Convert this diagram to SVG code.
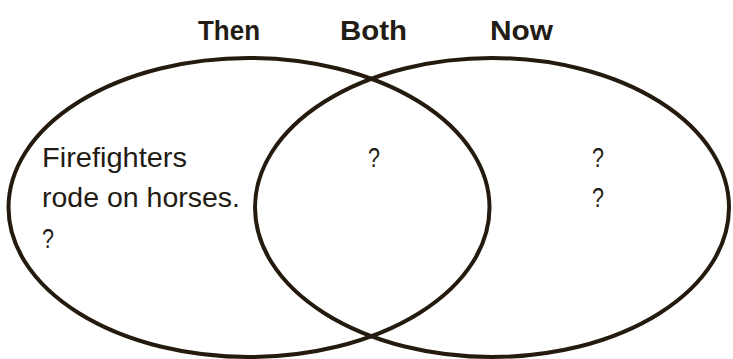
<svg xmlns="http://www.w3.org/2000/svg" width="733" height="359" viewBox="0 0 733 359">
<style>
.ring{fill:none;stroke:#241a0e;stroke-width:4}
.hd{font-family:"Liberation Sans",Arial,sans-serif;font-weight:bold;font-size:28px;fill:#231c14}
.tx{font-family:"Liberation Sans",Arial,sans-serif;font-size:28px;fill:#231c14}
</style>
<rect width="733" height="359" fill="#ffffff"/>
<g id="connectors"></g>
<g id="then">
<ellipse class="ring" cx="249" cy="207.5" rx="240.5" ry="149.5"/>
<text class="hd" x="198" y="40" textLength="62" lengthAdjust="spacingAndGlyphs">Then</text>
<text class="tx" x="42" y="167" textLength="145" lengthAdjust="spacingAndGlyphs">Firefighters</text>
<text class="tx" x="42" y="207" textLength="198" lengthAdjust="spacingAndGlyphs">rode on horses.</text>
<text class="tx" x="42" y="248" textLength="12" lengthAdjust="spacingAndGlyphs">?</text>
</g>
<g id="now">
<ellipse class="ring" cx="492" cy="207.5" rx="237" ry="149.5"/>
<text class="hd" x="490" y="40" textLength="63" lengthAdjust="spacingAndGlyphs">Now</text>
<text class="tx" x="592" y="167" textLength="12" lengthAdjust="spacingAndGlyphs">?</text>
<text class="tx" x="592" y="207" textLength="12" lengthAdjust="spacingAndGlyphs">?</text>
</g>
<g id="both">
<text class="hd" x="340" y="40" textLength="67" lengthAdjust="spacingAndGlyphs">Both</text>
<text class="tx" x="368" y="167" textLength="12" lengthAdjust="spacingAndGlyphs">?</text>
</g>
</svg>
